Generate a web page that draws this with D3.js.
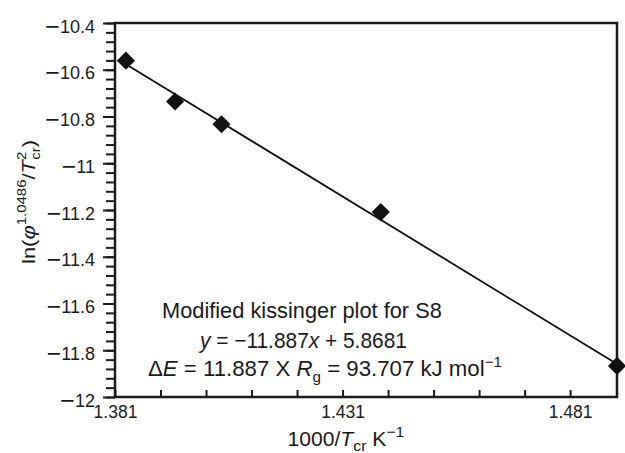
<!DOCTYPE html>
<html>
<head>
<meta charset="utf-8">
<script src="https://cdn.jsdelivr.net/npm/d3@7"></script>
<style>
  body { margin: 0; background: #fff; }
  text { font-family: "Liberation Sans", Arial, Helvetica, sans-serif; fill: #1a1a1a; }
</style>
</head>
<body>
<svg id="chart" width="625" height="453"></svg>
<script>
// Kissinger data: 1000/Tcr (K^-1) and ln(phi^1.0486 / Tcr^2)
const invTemp = [1.3834, 1.3942, 1.4044, 1.4394, 1.4913];
const lnRate  = [-10.561, -10.736, -10.833, -11.209, -11.867];

// Linear fit y = slope*x + intercept
const fitSlope = -11.887;
const fitIntercept = 5.8681;

// Axis ticks
const xLabelTicks = [1.381, 1.431, 1.481];
const xMinorTicks = [1.381, 1.391, 1.401, 1.411, 1.421, 1.431, 1.441, 1.451, 1.461, 1.471, 1.481];
const yLabelTicks = [-12, -11.8, -11.6, -11.4, -11.2, -11, -10.8, -10.6, -10.4];
const yMinorTicks = [-12, -11.96, -11.92, -11.88, -11.84, -11.8, -11.76, -11.72, -11.68, -11.64,
  -11.6, -11.56, -11.52, -11.48, -11.44, -11.4, -11.36, -11.32, -11.28, -11.24,
  -11.2, -11.16, -11.12, -11.08, -11.04, -11, -10.96, -10.92, -10.88, -10.84,
  -10.8, -10.76, -10.72, -10.68, -10.64, -10.6, -10.56, -10.52, -10.48, -10.44, -10.4];

const svg = d3.select("#chart");
const m = { left: 115, right: 617, top: 23, bottom: 397 };

const x = d3.scaleLinear().domain([1.381, 1.4913]).range([m.left, m.right]);
const y = d3.scaleLinear().domain([-12, -10.4]).range([m.bottom, m.top]);

const fmtX = d3.format(".3f");

// Stretch a text horizontally about an anchor so it spans the given width
function fitWidth(sel, width, ax, ay) {
  const w = sel.node().getBBox().width;
  const k = width / w;
  sel.attr("transform", `translate(${ax},${ay}) scale(${k},1) translate(${-ax},${-ay})`);
}

// Y axis: minor ticks, then labelled major ticks (outward)
svg.append("g")
  .attr("transform", `translate(${m.left},0)`)
  .call(d3.axisLeft(y).tickValues(yMinorTicks).tickSize(9).tickFormat(""))
  .call(g => g.select(".domain").remove())
  .call(g => g.selectAll("line").attr("stroke", "#1a1a1a").attr("stroke-width", 2));

const yMajor = svg.append("g")
  .attr("transform", `translate(${m.left},0)`)
  .call(d3.axisLeft(y).tickValues(yLabelTicks).tickSize(12).tickPadding(8).tickFormat(""))
  .call(g => g.select(".domain").remove())
  .call(g => g.selectAll("line").attr("stroke", "#1a1a1a").attr("stroke-width", 2));

// Tick labels with a long minus sign
yMajor.selectAll(".tick text")
  .attr("font-size", 18)
  .attr("fill", "#1a1a1a")
  .each(function (d) {
    const t = d3.select(this);
    t.append("tspan").attr("font-size", 25).attr("dy", "0.44em").text("\u2212");
    t.append("tspan").attr("dy", "-0.1em").text(String(Math.abs(d)));
  });

// X axis: ticks point into the plot
svg.append("g")
  .attr("transform", `translate(0,${m.bottom})`)
  .call(d3.axisBottom(x).tickValues(xMinorTicks).tickSizeInner(-7).tickSizeOuter(0).tickPadding(9)
    .tickFormat(d => xLabelTicks.some(v => Math.abs(v - d) < 1e-9) ? fmtX(d) : ""))
  .call(g => g.select(".domain").remove())
  .call(g => g.selectAll("line").attr("stroke", "#1a1a1a").attr("stroke-width", 2))
  .call(g => g.selectAll("text").attr("font-size", 17.5).attr("fill", "#1a1a1a"));

// Plot frame
svg.append("rect")
  .attr("x", m.left).attr("y", m.top)
  .attr("width", m.right - m.left).attr("height", m.bottom - m.top)
  .attr("fill", "none").attr("stroke", "#1a1a1a").attr("stroke-width", 2.5);

// Fitted line between the first and last points
const xr = d3.extent(invTemp);
svg.append("line")
  .attr("x1", x(xr[0])).attr("y1", y(fitSlope * xr[0] + fitIntercept))
  .attr("x2", x(xr[1])).attr("y2", y(fitSlope * xr[1] + fitIntercept))
  .attr("stroke", "#111").attr("stroke-width", 1.8);

// Diamond markers
const diamond = d3.symbol().type(d3.symbolSquare).size(165);
svg.append("g").selectAll("path")
  .data(invTemp.map((v, i) => [v, lnRate[i]]))
  .join("path")
  .attr("d", diamond)
  .attr("transform", d => `translate(${x(d[0])},${y(d[1])}) rotate(45)`)
  .attr("fill", "#111");

// Annotation block
const note = svg.append("g").attr("font-size", 22);
const l1 = note.append("text").attr("x", 162).attr("y", 318).text("Modified kissinger plot for S8");
fitWidth(l1, 280, 162, 318);

const l2 = note.append("text").attr("x", 200).attr("y", 348);
l2.append("tspan").attr("font-style", "italic").text("y");
l2.append("tspan").text(" = \u221211.887");
l2.append("tspan").attr("font-style", "italic").text("x");
l2.append("tspan").text(" + 5.8681");
fitWidth(l2, 209, 200, 348);

const l3 = note.append("text").attr("x", 148).attr("y", 376);
l3.append("tspan").text("\u0394");
l3.append("tspan").attr("font-style", "italic").text("E");
l3.append("tspan").text(" = 11.887 X ");
l3.append("tspan").attr("font-style", "italic").text("R");
l3.append("tspan").attr("font-size", 15).attr("dy", 6).text("g");
l3.append("tspan").attr("dy", -6).text(" = 93.707 kJ mol");
l3.append("tspan").attr("font-size", 15).attr("dy", -9).text("\u22121");
fitWidth(l3, 354, 148, 376);

// X axis title
const xt = svg.append("text").attr("x", 346).attr("y", 446)
  .attr("text-anchor", "middle").attr("font-size", 20);
xt.append("tspan").text("1000/");
xt.append("tspan").attr("font-style", "italic").text("T");
xt.append("tspan").attr("font-size", 15).attr("dy", 5).text("cr");
xt.append("tspan").attr("dy", -5).text(" K");
xt.append("tspan").attr("font-size", 15).attr("dy", -9).text("\u22121");
fitWidth(xt, 117, 346, 446);

// Y axis title (rotated)
const ytG = svg.append("g").attr("transform", "translate(35,202) rotate(-90)");
const yt = ytG.append("text").attr("x", 0).attr("y", 0)
  .attr("text-anchor", "middle").attr("font-size", 19);
yt.append("tspan").text("ln(");
yt.append("tspan").attr("font-style", "italic").text("\u03c6");
yt.append("tspan").attr("font-size", 13).attr("dy", -9).text("1.0486");
yt.append("tspan").attr("dy", 9).text("/");
yt.append("tspan").attr("font-style", "italic").text("T");
yt.append("tspan").attr("font-size", 13).attr("dy", -9).text("2");
yt.append("tspan").attr("font-size", 13).attr("dx", -7).attr("dy", 14).text("cr");
yt.append("tspan").attr("dy", -5).text(")");
fitWidth(yt, 124, 0, 0);
</script>
</body>
</html>
